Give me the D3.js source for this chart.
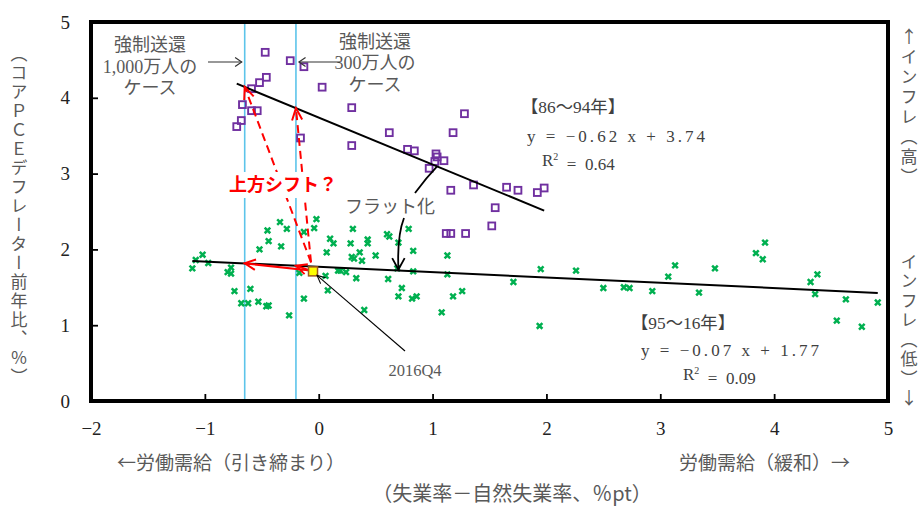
<!DOCTYPE html>
<html>
<head>
<meta charset="utf-8">
<script src="https://cdn.jsdelivr.net/npm/d3@7"></script>
<style>
  html, body { margin: 0; padding: 0; background: #fff; }
  svg { display: block; }
</style>
</head>
<body>
<svg id="chart" width="922" height="507"></svg>
<script>
// ---- data -------------------------------------------------------------
const xTicks = [-2, -1, 0, 1, 2, 3, 4, 5];
const yTicks = [0, 1, 2, 3, 4, 5];

// 1986–1994, quarterly: [unemployment gap, core PCE inflation]
const points8694 = [
  [-0.47, 4.60], [-0.25, 4.49], [-0.13, 4.41], [-0.46, 4.27], [-0.52, 4.20],
  [-0.59, 4.12], [0.03, 4.14], [-0.67, 3.91], [-0.59, 3.83], [-0.54, 3.83],
  [0.29, 3.87], [-0.68, 3.70], [-0.72, 3.62], [-0.16, 3.47], [0.62, 3.54],
  [0.29, 3.37], [0.78, 3.32], [0.84, 3.30], [1.03, 3.26], [1.04, 3.22],
  [1.10, 3.17], [1.02, 3.16], [0.97, 3.07], [1.28, 3.79], [1.18, 3.54],
  [1.16, 2.78], [1.36, 2.85], [1.65, 2.82], [1.75, 2.78], [1.92, 2.75],
  [1.98, 2.81], [1.55, 2.55], [1.52, 2.31], [1.12, 2.21], [1.16, 2.21],
  [1.29, 2.21]
];

// 1995–2016, quarterly
const points9516 = [
  [-0.02, 2.40], [-0.34, 2.36], [-0.04, 2.28], [-0.28, 2.27], [-0.45, 2.25],
  [-0.13, 2.23], [0.30, 2.27], [0.79, 2.27], [0.60, 2.20], [0.62, 2.17],
  [-0.44, 2.11], [0.10, 2.14], [0.13, 2.08], [0.28, 2.08], [0.43, 2.13],
  [0.43, 2.08], [0.70, 2.09], [-0.33, 2.04], [-0.52, 2.00], [0.36, 1.96],
  [0.83, 1.98], [0.07, 1.96], [0.29, 1.90], [0.31, 1.88], [0.38, 1.85],
  [0.50, 1.92], [-1.02, 1.93], [-1.08, 1.86], [-0.97, 1.82], [1.13, 1.92],
  [-1.11, 1.75], [-0.77, 1.76], [-0.80, 1.70], [-0.77, 1.68], [-0.17, 1.69],
  [0.17, 1.72], [0.19, 1.72], [0.24, 1.70], [0.33, 1.62], [0.61, 1.61],
  [0.83, 1.71], [1.13, 1.67], [0.06, 1.65], [-0.74, 1.45], [-0.60, 1.48],
  [0.08, 1.46], [0.73, 1.49], [0.70, 1.38], [0.82, 1.35], [0.86, 1.38],
  [-0.68, 1.29], [-0.62, 1.29], [-0.53, 1.31], [-0.46, 1.25], [-0.44, 1.26],
  [-0.13, 1.35], [1.18, 1.38], [1.26, 1.45], [-0.26, 1.13], [0.40, 1.20],
  [1.08, 1.17], [0.69, 1.75], [1.71, 1.57], [1.95, 1.74], [2.26, 1.72],
  [1.94, 0.99], [2.50, 1.49], [2.68, 1.50], [2.73, 1.49], [2.93, 1.45],
  [3.07, 1.64], [3.13, 1.79], [3.34, 1.43], [3.48, 1.75], [3.84, 1.95],
  [3.92, 2.09], [3.90, 1.87], [4.32, 1.57], [4.38, 1.67], [4.36, 1.41],
  [4.63, 1.34], [4.55, 1.06], [4.77, 0.98], [4.91, 1.30]
];

const latestPoint = [-0.05, 1.71];     // 2016Q4
const latestLabel = "2016Q4";

const fitPeriods = ["【86～94年】", "【95～16年】"];
const fitSlopes = [-0.62, -0.07];
const fitIntercepts = [3.74, 1.77];
const fitR2 = ["0.64", "0.09"];

// deportation scenarios: shift of the unemployment gap
const deportGaps = [-0.65, -0.2];
const deportLabels = [["強制送還", "1,000万人の", "ケース"], ["強制送還", "300万人の", "ケース"]];

const yTitle = "（コアＰＣＥデフレーター前年比、％）";
const rightTitles = ["↑インフレ（高）", "インフレ（低）↓"];
const xTitleLeft = "←労働需給（引き締まり）";
const xTitleRight = "労働需給（緩和）→";
const xTitle = "（失業率－自然失業率、％pt）";

// ---- layout -------------------------------------------------------------
const svg = d3.select("#chart");
const L = 91, R = 888, T = 22, B = 401;
const x = d3.scaleLinear().domain([-2, 5]).range([L, R]);
const y = d3.scaleLinear().domain([0, 5]).range([B, T]);

const SERIF = "'Liberation Serif', 'Noto Sans CJK JP', serif";
const JP = "'Liberation Serif', 'Noto Sans CJK JP', sans-serif";
const GOTHIC = "'Noto Sans CJK JP', sans-serif";
const GREY = "#595959";

// helper: open V arrowhead at (x2,y2) pointing from (x1,y1)
function arrowHead(g, x1, y1, x2, y2, len, ang, color, w) {
  const a = Math.atan2(y2 - y1, x2 - x1);
  const p1 = [x2 - len * Math.cos(a - ang), y2 - len * Math.sin(a - ang)];
  const p2 = [x2 - len * Math.cos(a + ang), y2 - len * Math.sin(a + ang)];
  g.append("path")
    .attr("d", `M${p1[0]},${p1[1]}L${x2},${y2}L${p2[0]},${p2[1]}`)
    .attr("fill", "none").attr("stroke", color).attr("stroke-width", w)
    .attr("stroke-linejoin", "miter");
}

// helper: vertical text, one upright glyph per cell
function verticalText(g, str, cx, y0, pitch) {
  Array.from(str).forEach((ch, i) => {
    g.append("text")
      .attr("x", cx).attr("y", y0 + i * pitch)
      .style("writing-mode", "vertical-rl")
      .style("text-orientation", "upright")
      .text(ch);
  });
}

// ---- axes ---------------------------------------------------------------
const fmt = d3.format("d");
const xAxis = svg.append("g").attr("transform", `translate(0,${B})`)
  .call(d3.axisBottom(x).tickValues(xTicks).tickFormat(fmt)
    .tickSizeInner(-7).tickSizeOuter(0).tickPadding(21));
const yAxis = svg.append("g").attr("transform", `translate(${L},0)`)
  .call(d3.axisLeft(y).tickValues(yTicks).tickFormat(fmt)
    .tickSizeInner(-7).tickSizeOuter(0).tickPadding(21));
[xAxis, yAxis].forEach(ax => {
  ax.select(".domain").remove();
  ax.selectAll(".tick line").attr("stroke", "#000").attr("stroke-width", 1.8);
  ax.selectAll(".tick text").attr("font-family", SERIF).attr("font-size", 19).attr("fill", "#222");
});

// deportation reference lines
svg.append("g").selectAll("line").data(deportGaps).join("line")
  .attr("x1", d => x(d)).attr("x2", d => x(d))
  .attr("y1", T).attr("y2", B)
  .attr("stroke", "#5cc4ea").attr("stroke-width", 1.6);

// ---- points -------------------------------------------------------------
svg.append("g").selectAll("path").data(points9516).join("path")
  .attr("d", d => {
    const cx = x(d[0]), cy = y(d[1]), s = 2.8;
    return `M${cx - s},${cy - s}L${cx + s},${cy + s}M${cx - s},${cy + s}L${cx + s},${cy - s}`;
  })
  .attr("stroke", "#00b050").attr("stroke-width", 2.5).attr("fill", "none");

svg.append("g").selectAll("rect").data(points8694).join("rect")
  .attr("x", d => x(d[0]) - 3.4).attr("y", d => y(d[1]) - 3.4)
  .attr("width", 6.8).attr("height", 6.8)
  .attr("fill", "none").attr("stroke", "#7030a0").attr("stroke-width", 1.9);

// ---- trend lines --------------------------------------------------------
const seriesList = [points8694, points9516];
seriesList.forEach((pts, i) => {
  const [x0, x1] = d3.extent(pts, d => d[0]);
  const f = v => fitSlopes[i] * v + fitIntercepts[i];
  svg.append("line")
    .attr("x1", x(x0)).attr("y1", y(f(x0)))
    .attr("x2", x(x1)).attr("y2", y(f(x1)))
    .attr("stroke", "#000").attr("stroke-width", 2);
});

// ---- red shift arrows ---------------------------------------------------
const red = "#ff0000";
const arrows = svg.append("g");
const lx = x(latestPoint[0]), ly = y(latestPoint[1]);
deportGaps.forEach(g => {
  // to the flat (recent) line
  const tx = x(g), ty = y(fitSlopes[1] * g + fitIntercepts[1]);
  arrows.append("line").attr("x1", lx - 3).attr("y1", ly - 1).attr("x2", tx).attr("y2", ty)
    .attr("stroke", red).attr("stroke-width", 2);
  arrowHead(arrows, lx, ly, tx, ty, 12, 0.45, red, 2);
  // to the steep (old) line
  const ux = x(g), uy = y(fitSlopes[0] * g + fitIntercepts[0]);
  arrows.append("line").attr("x1", lx - 2).attr("y1", ly - 9).attr("x2", ux).attr("y2", uy)
    .attr("stroke", red).attr("stroke-width", 2).attr("stroke-dasharray", "8,5");
  arrowHead(arrows, lx - 2, ly - 9, ux, uy, 13, 0.4, red, 2);
});

// label box for the shift question
const shiftG = svg.append("g");
shiftG.append("rect").attr("x", 222).attr("y", 172).attr("width", 121).attr("height", 26).attr("fill", "#fff");
shiftG.append("text").attr("x", 283).attr("y", 185).attr("dy", "0.35em")
  .attr("text-anchor", "middle").attr("font-family", GOTHIC)
  .attr("font-weight", "bold").attr("font-size", 18).attr("fill", red)
  .text("上方シフト？");

// latest observation
svg.append("rect")
  .attr("x", lx - 4.5).attr("y", ly - 4.5).attr("width", 9).attr("height", 9)
  .attr("fill", "#ffff00").attr("stroke", "#a0581c").attr("stroke-width", 1.5);

// ---- annotations --------------------------------------------------------
const ann = svg.append("g").attr("font-family", JP).attr("fill", GREY).attr("font-size", 18);

// deportation scenario labels with arrows toward the reference lines
const deportPos = [[150, [45, 67, 88]], [375, [42, 63, 85]]];
deportLabels.forEach((lines, i) => {
  const [cx, ys] = deportPos[i];
  lines.forEach((t, j) => {
    ann.append("text").attr("x", cx).attr("y", ys[j]).attr("dy", "0.35em")
      .attr("text-anchor", "middle").text(t);
  });
});
{
  const g = svg.append("g");
  const ay = 62;
  g.append("line").attr("x1", 208).attr("y1", ay).attr("x2", x(deportGaps[0]) - 3).attr("y2", ay)
    .attr("stroke", "#333").attr("stroke-width", 1.2);
  arrowHead(g, 208, ay, x(deportGaps[0]) - 3, ay, 8, 0.6, "#333", 1.2);
  g.append("line").attr("x1", 340).attr("y1", ay).attr("x2", x(deportGaps[1]) + 3).attr("y2", ay)
    .attr("stroke", "#333").attr("stroke-width", 1.2);
  arrowHead(g, 340, ay, x(deportGaps[1]) + 3, ay, 8, 0.6, "#333", 1.2);
}

// "flattening" callout
ann.append("text").attr("x", 390).attr("y", 207).attr("dy", "0.35em")
  .attr("text-anchor", "middle").attr("font-family", GOTHIC).text("フラット化");
{
  const g = svg.append("g");
  const fx = 0.7, fy = fitSlopes[1] * fx + fitIntercepts[1];
  const tx = x(fx), ty = y(fy) - 1;
  g.append("path").attr("d", `M404,218 Q397,236 ${tx},${ty}`)
    .attr("fill", "none").attr("stroke", "#000").attr("stroke-width", 1.8);
  arrowHead(g, tx, ty - 14, tx, ty, 13, 0.5, "#000", 1.8);
  const sx = 1.04, sy = fitSlopes[0] * sx + fitIntercepts[0];
  g.append("path").attr("d", `M415,193 Q426,178 ${x(sx)},${y(sy)}`)
    .attr("fill", "none").attr("stroke", "#000").attr("stroke-width", 1.8);
}

// latest point callout
{
  const g = svg.append("g");
  const tx = lx + 4, ty = ly + 4;
  g.append("line").attr("x1", 405).attr("y1", 351).attr("x2", tx).attr("y2", ty)
    .attr("stroke", "#000").attr("stroke-width", 1.1);
  arrowHead(g, 405, 351, tx, ty, 9, 0.45, "#000", 1.1);
  ann.append("text").attr("x", 415).attr("y", 370).attr("dy", "0.35em")
    .attr("text-anchor", "middle").attr("font-size", 16.5).text(latestLabel);
}

// regression equations
const eqG = svg.append("g").attr("font-family", JP).attr("font-size", 17).attr("fill", "#404040");
const eqPos = [[521, 527, 542, [107, 136, 160]], [631, 641, 683, [323, 350, 374]]];
fitPeriods.forEach((p, i) => {
  const [px, ex, rx, ys] = eqPos[i];
  eqG.append("text").attr("x", px).attr("y", ys[0]).attr("dy", "0.35em")
    .attr("textLength", 104).attr("lengthAdjust", "spacingAndGlyphs").text(p);
  const sign = fitSlopes[i] < 0 ? "−" : "";
  eqG.append("text").attr("x", ex).attr("y", ys[1]).attr("dy", "0.35em")
    .style("white-space", "pre")
    .attr("textLength", 178).attr("lengthAdjust", "spacing")
    .text(`y = ${sign}${Math.abs(fitSlopes[i]).toFixed(2)} x + ${fitIntercepts[i].toFixed(2)}`);
  const r = eqG.append("text").attr("x", rx).attr("y", ys[2]).attr("dy", "0.35em")
    .style("white-space", "pre");
  r.append("tspan").text("R");
  r.append("tspan").attr("font-size", 10).attr("dy", "-0.6em").text("2");
  r.append("tspan").attr("dy", "0.6em").text(`  =  ${fitR2[i]}`);
});

// ---- axis titles --------------------------------------------------------
const titles = svg.append("g").attr("font-family", GOTHIC)
  .attr("fill", GREY).attr("font-size", 17);
verticalText(titles, yTitle, 19, 45, 19);
verticalText(titles, rightTitles[0], 909, 28, 20);
verticalText(titles, rightTitles[1], 909, 253, 19.5);
const bottom = titles.append("g").attr("font-size", 19);
bottom.append("text").attr("x", 117).attr("y", 463).attr("dy", "0.35em")
  .text(xTitleLeft);
bottom.append("text").attr("x", 850).attr("y", 463).attr("dy", "0.35em")
  .attr("text-anchor", "end").text(xTitleRight);
bottom.append("text").attr("x", 512).attr("y", 494).attr("dy", "0.35em")
  .attr("text-anchor", "middle").attr("font-size", 20).text(xTitle);

// ---- frame --------------------------------------------------------------
svg.append("rect").attr("x", L).attr("y", T).attr("width", R - L).attr("height", B - T)
  .attr("fill", "none").attr("stroke", "#000").attr("stroke-width", 4);
</script>
</body>
</html>
